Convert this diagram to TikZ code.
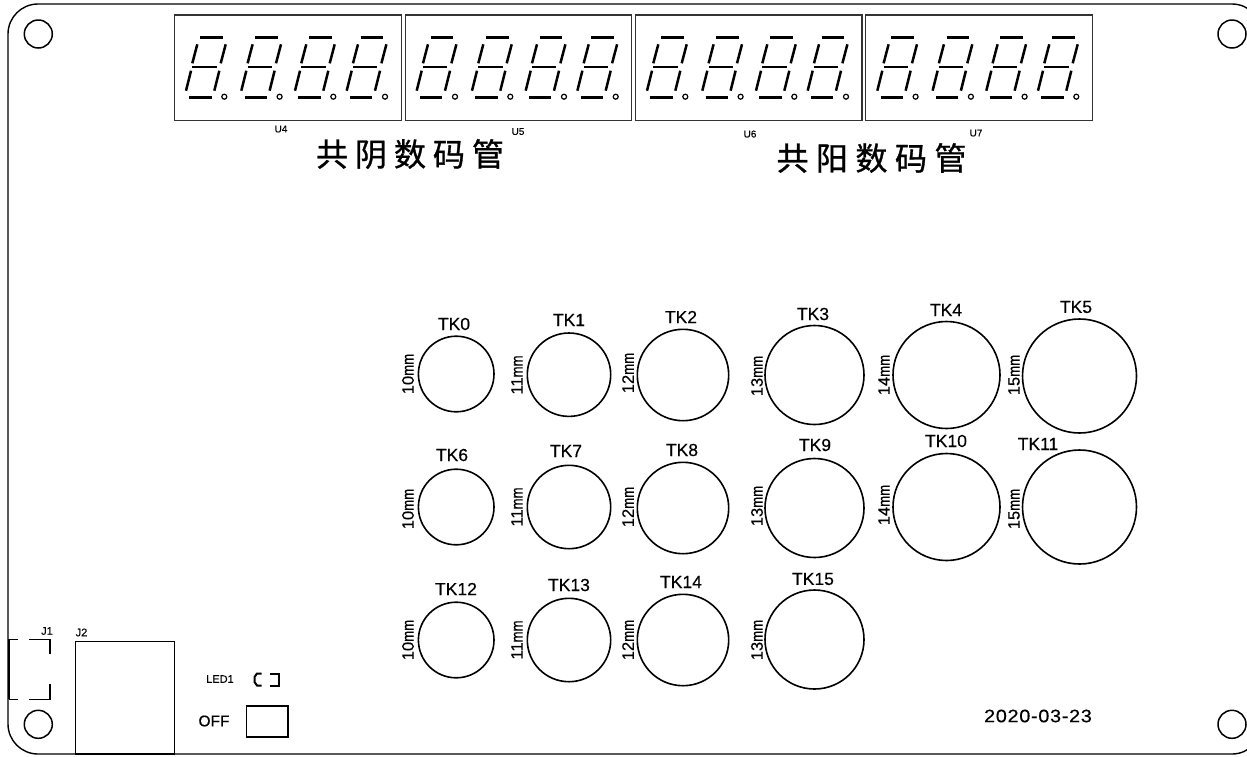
\documentclass[tikz,border=0pt]{standalone}
\usepackage{fontspec}
\setmainfont{Liberation Sans}[FakeBold=0.35]
\newfontfamily\cjkf{Noto Sans CJK SC}[FakeBold=1.0]
\newfontfamily\datef{Liberation Sans}[FakeBold=0.35,FakeStretch=1.1,LetterSpace=4]
\newcommand{\szt}[1]{\fontsize{#1}{#1}\selectfont}
\newcommand{\mmlabel}[1]{#1\scalebox{.8}[1]{mm}}
\tikzset{
  edgeline/.style={draw=black,line width=1.4pt},
  unitbox/.style={draw=black!80,line width=1.1pt},
  segline/.style={draw=black,line width=2.5pt},
  keycircle/.style={circle,draw=black,line width=1.6pt,inner sep=0pt,outer sep=0pt,minimum size=#1},
  mounthole/.style={circle,draw=black,line width=1.5pt,inner sep=0pt,minimum size=28pt},
  keytext/.style={inner sep=0pt,font=\szt{17.5}},
  sizetext/.style={inner sep=0pt,rotate=90,font=\szt{16.5}},
  smalltext/.style={inner sep=0pt,font=\szt{11}},
  bigtext/.style={inner sep=0pt,font=\cjkf\szt{32}}
}
\begin{document}
\begin{tikzpicture}[x=1pt,y=-1pt]
\clip (0,0) rectangle (1247,756);
\fill[white] (0,0) rectangle (1247,756);
% board outline
\draw[edgeline,rounded corners=30pt] (8,4) -- (1262,4) -- (1262,754) -- (8,754) -- cycle;
% mounting holes
\node[mounthole] (h1) at (38.3,34) {};
\node[mounthole] (h2) at (1232,34) {};
\node[mounthole] (h3) at (38.3,724.3) {};
\node[mounthole] (h4) at (1232,724.3) {};
% display units
\draw[unitbox] (174.5,15) rectangle (401.5,120.5);
\draw[unitbox] (405.3,15) rectangle (631.7,120.5);
\draw[unitbox] (635.3,15) rectangle (862,120.5);
\draw[unitbox] (865.5,15) rectangle (1092.7,120.5);
\foreach \ux in {0,230.7,461,691.3}{
  \foreach \dx in {0,55.3,109,160.7}{
    \begin{scope}[xshift=\ux pt+\dx pt]
      \draw[segline] (200,37.3) -- (222.7,37.3);
      \draw[segline] (197.3,44.3) -- (192.3,63.3);
      \draw[segline] (225.7,44.3) -- (220.7,63.3);
      \draw[segline] (192.3,67) -- (216.7,67);
      \draw[segline] (191,70.7) -- (186,90.7);
      \draw[segline] (219.3,70.7) -- (214.3,90.7);
      \draw[segline] (189.3,97.7) -- (211.7,97.7);
      \draw[line width=1.2pt] (224.3,96.7) circle (2.5pt);
    \end{scope}
  }
}
\node[smalltext,font=\szt{10}] (u4) at (281,129) {U4};
\node[smalltext,font=\szt{10}] (u5) at (518,131.5) {U5};
\node[smalltext,font=\szt{10}] (u6) at (750,134) {U6};
\node[smalltext,font=\szt{10}] (u7) at (976,133) {U7};
\node[bigtext] (t1) at (410,154) {共\hspace{7pt}阴\hspace{7pt}数\hspace{7pt}码\hspace{7pt}管};
\node[bigtext] (t2) at (871.5,158) {共\hspace{7.5pt}阳\hspace{7.5pt}数\hspace{7.5pt}码\hspace{7.5pt}管};
% keys row 1
\node[keycircle=75.6pt] (k0) at (456.2,374) {};
\node[keycircle=83.4pt] (k1) at (569,374.7) {};
\node[keycircle=91.4pt] (k2) at (683,375) {};
\node[keycircle=99pt] (k3) at (814.5,375) {};
\node[keycircle=107pt] (k4) at (946.5,375) {};
\node[keycircle=114pt] (k5) at (1079.5,376) {};
% keys row 2
\node[keycircle=75.6pt] (k6) at (456.2,507) {};
\node[keycircle=83.4pt] (k7) at (569,507) {};
\node[keycircle=91.4pt] (k8) at (683,508) {};
\node[keycircle=99pt] (k9) at (814.5,508) {};
\node[keycircle=107pt] (k10) at (946.5,507) {};
\node[keycircle=114pt] (k11) at (1079.5,507) {};
% keys row 3
\node[keycircle=75.6pt] (k12) at (456.2,640) {};
\node[keycircle=83.4pt] (k13) at (569,640) {};
\node[keycircle=91.4pt] (k14) at (683,640) {};
\node[keycircle=99pt] (k15) at (814.5,639.5) {};
% key names
\node[keytext] (n0) at (454,324) {TK0};
\node[keytext] (n1) at (569,320) {TK1};
\node[keytext] (n2) at (681,317) {TK2};
\node[keytext] (n3) at (813,314) {TK3};
\node[keytext] (n4) at (946,310) {TK4};
\node[keytext] (n5) at (1076,307) {TK5};
\node[keytext] (n6) at (452,455) {TK6};
\node[keytext] (n7) at (566,451) {TK7};
\node[keytext] (n8) at (682,450) {TK8};
\node[keytext] (n9) at (815,445) {TK9};
\node[keytext] (n10) at (946,441) {TK10};
\node[keytext] (n11) at (1038,444) {TK11};
\node[keytext] (n12) at (456,589) {TK12};
\node[keytext] (n13) at (569,585) {TK13};
\node[keytext] (n14) at (681,582) {TK14};
\node[keytext] (n15) at (813,579) {TK15};
% key sizes
\node[sizetext] (s0) at (408,374) {\mmlabel{10}};
\node[sizetext] (s1) at (517,375) {\mmlabel{11}};
\node[sizetext] (s2) at (628,373) {\mmlabel{12}};
\node[sizetext] (s3) at (757,376) {\mmlabel{13}};
\node[sizetext] (s4) at (884,375) {\mmlabel{14}};
\node[sizetext] (s5) at (1014,375) {\mmlabel{15}};
\node[sizetext] (s6) at (408,509) {\mmlabel{10}};
\node[sizetext] (s7) at (517,507) {\mmlabel{11}};
\node[sizetext] (s8) at (628,507) {\mmlabel{12}};
\node[sizetext] (s9) at (757,506) {\mmlabel{13}};
\node[sizetext] (s10) at (884,505) {\mmlabel{14}};
\node[sizetext] (s11) at (1014,509) {\mmlabel{15}};
\node[sizetext] (s12) at (408,640) {\mmlabel{10}};
\node[sizetext] (s13) at (517,640) {\mmlabel{11}};
\node[sizetext] (s14) at (628,640) {\mmlabel{12}};
\node[sizetext] (s15) at (757,640) {\mmlabel{13}};
% connectors
\draw[edgeline] (9,639.3) -- (18.3,639.3);
\draw[edgeline] (29.3,639.3) -- (50,639.3) -- (50,654.3);
\draw[edgeline] (50,684) -- (50,699.3) -- (29.3,699.3);
\draw[edgeline] (18.3,699.3) -- (9,699.3);
\draw[edgeline] (9,639.3) -- (9,699.3);
\node[smalltext] (j1) at (47,631) {J1};
\draw[edgeline] (75.5,754) -- (75.5,641.5) -- (174.5,641.5) -- (174.5,754) -- cycle;
\draw[line width=2.4pt] (75.5,754) -- (174.5,754);
\node[smalltext] (j2) at (81.5,632.5) {J2};
% LED and switch
\node[smalltext] (led) at (220,679) {LED1};
\draw[line width=2pt] (261.5,673.5) -- (257,673.5) -- (254.5,677) -- (254.5,682) -- (257,685.5) -- (261.5,685.5);
\draw[line width=2pt] (269.5,673.5) -- (279,673.5) -- (279,685.5) -- (269.5,685.5);
\node[inner sep=0pt,font=\szt{15.5}] (off) at (214,721) {OFF};
\draw[line width=1.1pt] (246.5,706) rectangle (288,737);
\node[inner sep=0pt,font=\datef\szt{18}] (date) at (1038,716) {2020-03-23};
\end{tikzpicture}
\end{document}
